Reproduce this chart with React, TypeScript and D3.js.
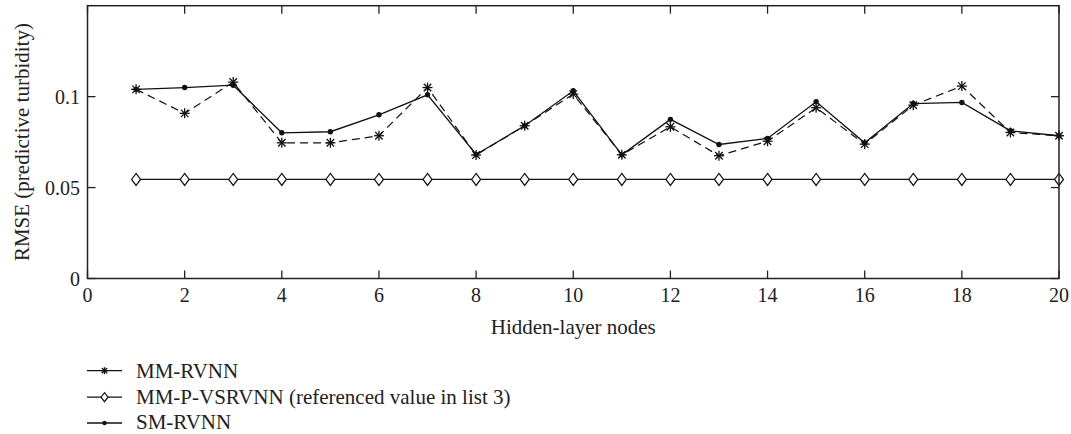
import React from "react";
import * as d3 from "d3";

const nodes = [1, 2, 3, 4, 5, 6, 7, 8, 9, 10, 11, 12, 13, 14, 15, 16, 17, 18, 19, 20];
const mmRvnn = [0.104, 0.0908, 0.108, 0.0746, 0.0746, 0.0785, 0.105, 0.0679, 0.084, 0.1014, 0.068, 0.0834, 0.0675, 0.0755, 0.0939, 0.0739, 0.0953, 0.1058, 0.0803, 0.0785];
const mmPVsrvnn = [0.0545, 0.0545, 0.0545, 0.0545, 0.0545, 0.0545, 0.0545, 0.0545, 0.0545, 0.0545, 0.0545, 0.0545, 0.0545, 0.0545, 0.0545, 0.0545, 0.0545, 0.0545, 0.0545, 0.0545];
const smRvnn = [0.104, 0.105, 0.1063, 0.0801, 0.0807, 0.09, 0.101, 0.0682, 0.084, 0.1032, 0.068, 0.0875, 0.0737, 0.077, 0.0972, 0.0746, 0.0962, 0.0968, 0.0812, 0.0785];
const xTicks = [0, 2, 4, 6, 8, 10, 12, 14, 16, 18, 20];
const yTicks = [0, 0.05, 0.1];
const yTickLabels = ["0", "0.05", "0.1"];
const legendLabels = ["MM-RVNN", "MM-P-VSRVNN (referenced value in list 3)", "SM-RVNN"];

const W = 1071, H = 434;
const L = 87.5, R = 1059, T = 5.7, B = 278.5;
const fontStyle = { fontFamily: "Liberation Serif, Times New Roman, Times, DejaVu Serif, serif" };

function Star({ x, y, s = 5 }: { x: number; y: number; s?: number }) {
  const d = s * 0.75;
  return (
    <g stroke="#111" strokeWidth={1.3}>
      <line x1={x - s} y1={y} x2={x + s} y2={y} />
      <line x1={x} y1={y - s} x2={x} y2={y + s} />
      <line x1={x - d} y1={y - d} x2={x + d} y2={y + d} />
      <line x1={x - d} y1={y + d} x2={x + d} y2={y - d} />
    </g>
  );
}
function Diamond({ x, y, w = 4.5, h = 6 }: { x: number; y: number; w?: number; h?: number }) {
  return <path d={`M${x},${y - h}L${x + w},${y}L${x},${y + h}L${x - w},${y}Z`} fill="white" stroke="#111" strokeWidth={1.2} />;
}
function Dot({ x, y, r = 2.7 }: { x: number; y: number; r?: number }) {
  return <circle cx={x} cy={y} r={r} fill="#111" />;
}

export default function App() {
  const x = d3.scaleLinear().domain([0, 20]).range([L, R]);
  const y = d3.scaleLinear().domain([0, 0.15]).range([B, T]);
  const line = d3.line<number>().x((_, i) => x(nodes[i])).y((v) => y(v));
  const tick = 8;
  return (
    <svg width={W} height={H} style={{ position: "absolute", left: 0, top: 0, background: "white", ...fontStyle }}>
      <rect x={0} y={0} width={W} height={H} fill="white" />
      {xTicks.map((t) => (
        <g key={"xt" + t} stroke="#222" strokeWidth={1.3}>
          <line x1={x(t)} x2={x(t)} y1={B} y2={B - tick} />
          <line x1={x(t)} x2={x(t)} y1={T} y2={T + tick} />
        </g>
      ))}
      {yTicks.map((t) => (
        <g key={"yt" + t} stroke="#222" strokeWidth={1.3}>
          <line x1={L} x2={L + tick} y1={y(t)} y2={y(t)} />
          <line x1={R} x2={R - tick} y1={y(t)} y2={y(t)} />
        </g>
      ))}
      <path d={line(mmPVsrvnn) || ""} fill="none" stroke="#111" strokeWidth={1.3} />
      <path d={line(mmRvnn) || ""} fill="none" stroke="#111" strokeWidth={1.2} strokeDasharray="8,5" />
      <path d={line(smRvnn) || ""} fill="none" stroke="#111" strokeWidth={1.3} />
      {mmPVsrvnn.map((v, i) => <Diamond key={"d" + i} x={x(nodes[i])} y={y(v)} />)}
      {mmRvnn.map((v, i) => <Star key={"s" + i} x={x(nodes[i])} y={y(v)} />)}
      {smRvnn.map((v, i) => <Dot key={"c" + i} x={x(nodes[i])} y={y(v)} />)}
      <rect x={L} y={T} width={R - L} height={B - T} fill="none" stroke="#222" strokeWidth={1.5} />
      {xTicks.map((t) => (
        <text key={"xl" + t} x={x(t)} y={302} textAnchor="middle" fontSize={20} fill="#222" style={fontStyle}>{t}</text>
      ))}
      {yTicks.map((t, i) => (
        <text key={"yl" + t} x={80} y={y(t) + 7} textAnchor="end" fontSize={20} fill="#222" style={fontStyle}>{yTickLabels[i]}</text>
      ))}
      <text x={(L + R) / 2} y={334} textAnchor="middle" fontSize={21} fill="#222" style={fontStyle}>Hidden-layer nodes</text>
      <text transform={`translate(29,${(T + B) / 2}) rotate(-90)`} textAnchor="middle" fontSize={21} fill="#222" style={fontStyle}>RMSE (predictive turbidity)</text>
      {legendLabels.map((lab, i) => {
        const ly = [370.7, 397.2, 423][i];
        const dy = [7, 7, 6][i];
        return (
          <g key={"lg" + i}>
            <line x1={87} x2={122} y1={ly} y2={ly} stroke="#111" strokeWidth={1.3} />
            {i === 0 && <Star x={104.5} y={ly} s={3.5} />}
            {i === 1 && <Diamond x={104.5} y={ly} w={3.5} h={4.5} />}
            {i === 2 && <Dot x={104.5} y={ly} r={2.2} />}
            <text x={136} y={ly + dy} fontSize={21} fill="#222" style={fontStyle}>{lab}</text>
          </g>
        );
      })}
    </svg>
  );
}
